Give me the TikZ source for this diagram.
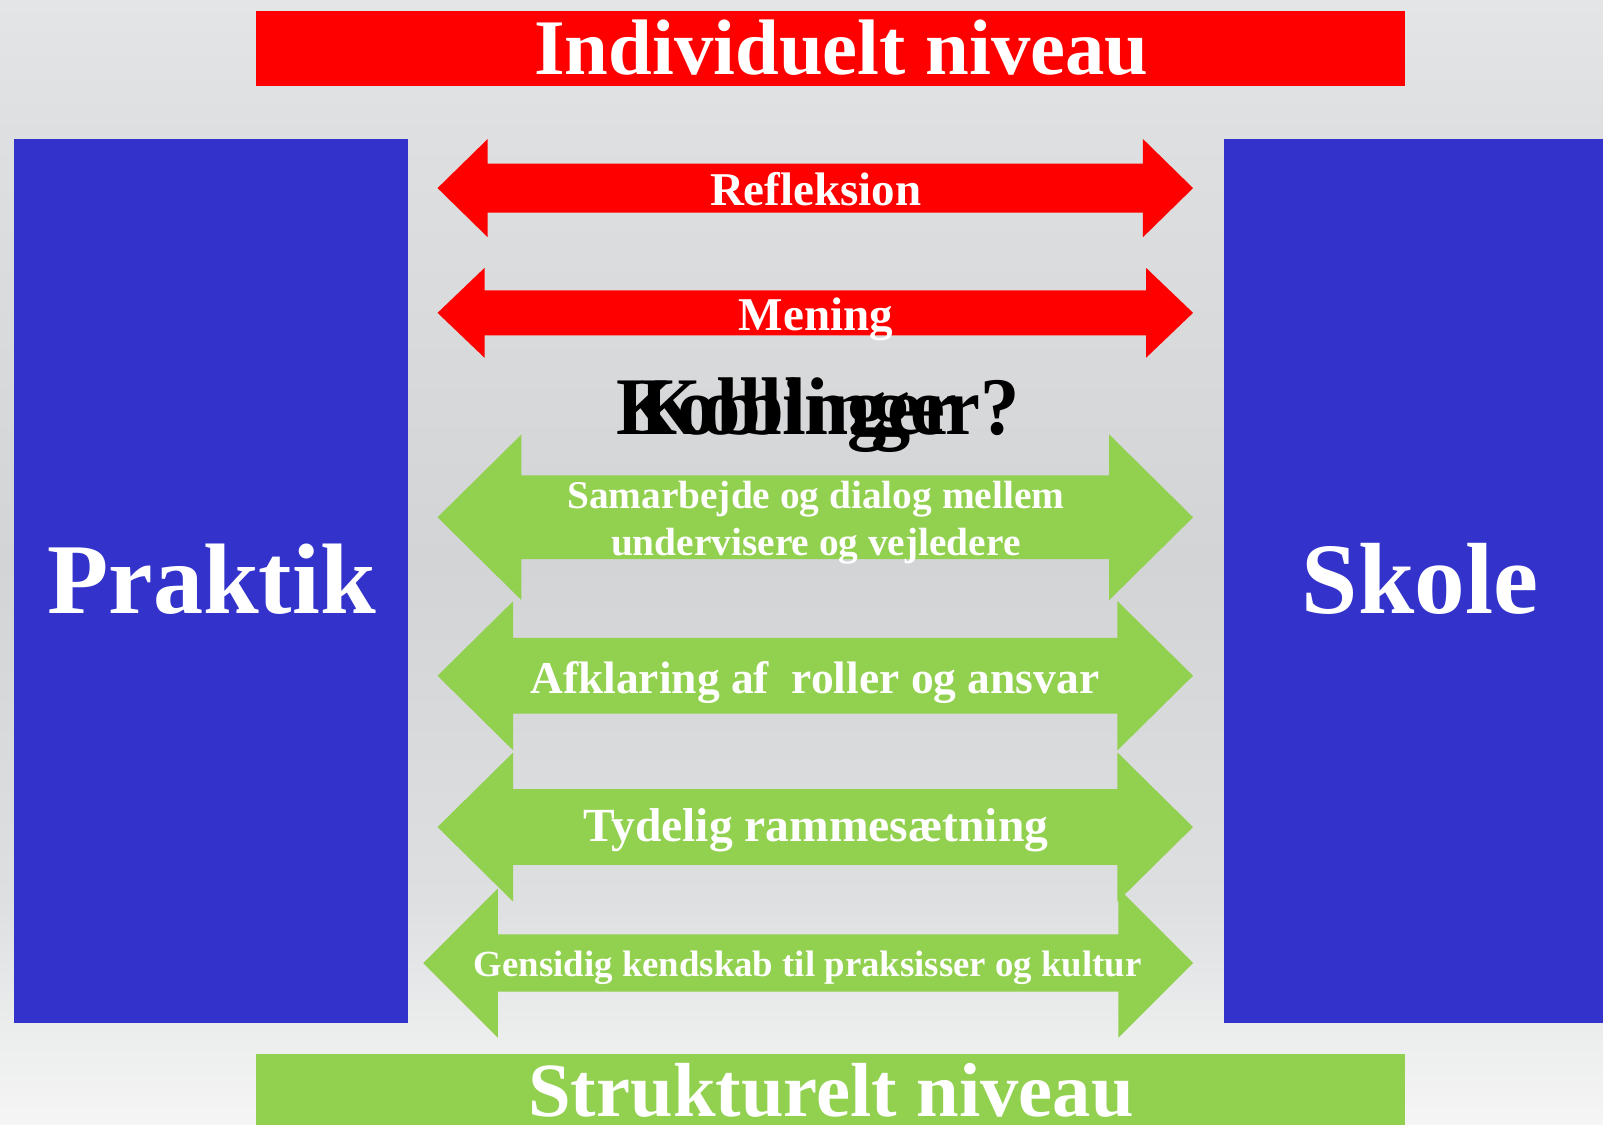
\documentclass[tikz,border=0pt]{standalone}
\usepackage{fontspec}
\setmainfont{Liberation Serif}

\definecolor{rodt}{RGB}{255,0,0}
\definecolor{blaa}{RGB}{51,51,204}
\definecolor{groen}{RGB}{146,208,80}
\definecolor{bgtop}{RGB}{228,229,231}
\definecolor{bgoeverst}{RGB}{222,223,225}
\definecolor{bgmid}{RGB}{211,212,214}
\definecolor{bgnedre}{RGB}{222,223,225}
\definecolor{bglys}{RGB}{236,237,237}
\definecolor{bgbund}{RGB}{245,245,245}
\pgfdeclareverticalshading{baggrund}{100bp}{color(0bp)=(bgbund); color(25bp)=(bgbund);
    color(29bp)=(bglys); color(35bp)=(bgnedre); color(50bp)=(bgmid); color(69bp)=(bgoeverst);
    color(75bp)=(bgtop); color(100bp)=(bgtop)}

\newcommand{\fs}[1]{\fontsize{#1}{#1}\selectfont}
\newcommand{\dblpil}[7]{%
    \fill[#1] (#2,#4) -- ({#2+#7},{#4-#5}) -- ({#2+#7},{#4-#6}) -- ({#3-#7},{#4-#6})
        -- ({#3-#7},{#4-#5}) -- (#3,#4) -- ({#3-#7},{#4+#5}) -- ({#3-#7},{#4+#6})
        -- ({#2+#7},{#4+#6}) -- ({#2+#7},{#4+#5}) -- cycle;}

\begin{document}
\begin{tikzpicture}[x=1pt, y=-1pt,
        lbl/.style={text=white, inner sep=0pt, anchor=base},
        kob/.style={text=black, inner sep=0pt, anchor=base west, font=\fs{80}\bfseries, xscale=.96}]

        \useasboundingbox (0,0) rectangle (1568,1100);
        \shade[shading=baggrund] (0,0) rectangle (1568,1100);

        \fill[rodt] (250,11) rectangle (1374,84);
        \fill[groen] (250,1031) rectangle (1374,1100);
        \fill[blaa] (14,136) rectangle (399,1001);
        \fill[blaa] (1197,136) rectangle (1568,1001);

        \dblpil{rodt}{428}{1167}{184}{48}{24}{49}
        \dblpil{rodt}{428}{1167}{306}{44}{22}{46}
        \dblpil{groen}{428}{1167}{506}{81}{41}{82}
        \dblpil{groen}{428}{1167}{661}{73}{37}{74}
        \dblpil{groen}{428}{1167}{809}{73}{37}{74}
        \dblpil{groen}{414}{1167}{942}{73}{28}{73}

        \node[lbl, font=\fs{77}\bfseries] (indiv) at (823,73) {Individuelt niveau};
        \node[lbl, font=\fs{75}\bfseries] (strukt) at (813,1092) {Strukturelt niveau};
        \node[lbl, font=\fs{98}\bfseries] (praktik) at (207,600) {Praktik};
        \node[lbl, font=\fs{99}\bfseries] (skole) at (1389,600) {Skole};

        \node[lbl, font=\fs{46}\bfseries] (refleksion) at (798,201) {Refleksion};
        \node[lbl, font=\fs{46}\bfseries] (mening) at (798,323) {Mening};

        \node[kob] (kobA) at (603,425) {Koblinger};
        \node[kob] (kobB) at (626,425) {Koblinger?};

        \node[lbl, font=\fs{38.5}\bfseries] (samarb) at (798,497) {Samarbejde og dialog mellem};
        \node[lbl, font=\fs{38.5}\bfseries] (underv) at (798,543) {undervisere og vejledere};
        \node[lbl, font=\fs{44.5}\bfseries] (afklar) at (797,678) {Afklaring af~ roller og ansvar};
        \node[lbl, font=\fs{46.5}\bfseries] (tydelig) at (798,823) {Tydelig rammesætning};
        \node[lbl, font=\fs{36}\bfseries] (gensidig) at (790,955) {Gensidig kendskab til praksisser og kultur};

    \end{tikzpicture}
\end{document}
